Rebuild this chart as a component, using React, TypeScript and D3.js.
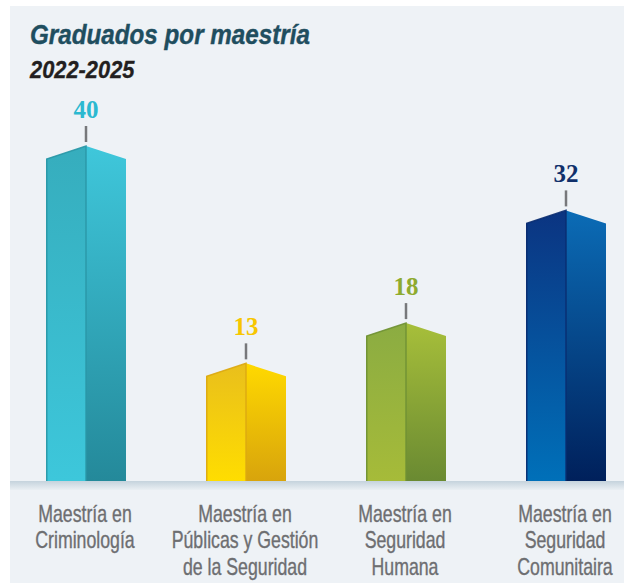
import React from "react";
import * as d3 from "d3";

const categories: string[][] = [
  ["Maestría en", "Criminología"],
  ["Maestría en", "Públicas y Gestión", "de la Seguridad"],
  ["Maestría en", "Seguridad", "Humana"],
  ["Maestría en", "Seguridad", "Comunitaira"],
];
const values = [40, 13, 18, 32];
const labelColors = ["#2bb9d0", "#f7c600", "#8eab2f", "#10306b"];
// [leftTop, leftBottom, rightTop, rightBottom, edge]
const faceColors = [
  ["#36adbd", "#3dc7db", "#3fc7db", "#24899a", "#2a97a6"],
  ["#e9bf1c", "#ffdd00", "#ffd900", "#d8a40c", "#dca812"],
  ["#8bac42", "#a6bb39", "#a7bf3a", "#6a8a32", "#6f9134"],
  ["#0b3481", "#0070b9", "#0b6cb6", "#00205b", "#0a2c70"],
];

const W = 624;
const H = 583;
const baseY = 481;

export default function App() {
  const x = d3.scaleBand<number>().domain(d3.range(values.length)).range([46, 606]).paddingInner(0.5).paddingOuter(0);
  const y = d3.scaleLinear().domain([0, 40]).range([baseY, 159]);
  const roof = 13;
  const bw = x.bandwidth();
  const sans = "'Liberation Sans', Arial, sans-serif";

  return (
    <svg width={W} height={H} style={{ position: "absolute", left: 0, top: 0, display: "block" }}>
      <defs>
        {faceColors.map((c, i) => (
          <React.Fragment key={i}>
            <linearGradient id={`gl${i}`} x1="0" y1="0" x2="0" y2="1">
              <stop offset="0%" stopColor={c[0]} />
              <stop offset="100%" stopColor={c[1]} />
            </linearGradient>
            <linearGradient id={`gr${i}`} x1="0" y1="0" x2="0" y2="1">
              <stop offset="0%" stopColor={c[2]} />
              <stop offset="100%" stopColor={c[3]} />
            </linearGradient>
          </React.Fragment>
        ))}
        <linearGradient id="base" x1="0" y1="0" x2="0" y2="1">
          <stop offset="0%" stopColor="#c5d3dd" />
          <stop offset="100%" stopColor="#eaeff3" />
        </linearGradient>
      </defs>
      <rect x={0} y={0} width={W} height={H} fill="#ffffff" />
      <rect x={10} y={6} width={W - 10} height={H - 6} fill="#eef2f6" />
      <rect x={10} y={baseY} width={W - 10} height={9} fill="url(#base)" />

      <g transform="translate(30,44) scale(0.85,1)">
        <text x={0} y={0} fontFamily={sans} fontWeight="bold" fontStyle="italic" fontSize={28.5} fill="#1f4e5f" stroke="#1f4e5f" strokeWidth={0.4}>
          Graduados por maestría
        </text>
      </g>
      <g transform="translate(30,78) scale(0.95,1)">
        <text x={0} y={0} fontFamily={sans} fontWeight="bold" fontStyle="italic" fontSize={23} fill="#231f20" stroke="#231f20" strokeWidth={0.3}>
          2022-2025
        </text>
      </g>

      {values.map((v, i) => {
        const x0 = x(i)!;
        const x1 = x0 + bw;
        const xc = x0 + bw / 2;
        const sy = y(v);
        const py = sy - roof;
        const c = faceColors[i];
        const left = d3.line()([[x0, sy], [xc, py], [xc, baseY], [x0, baseY]]) + "Z";
        const right = d3.line()([[xc, py], [x1, sy], [x1, baseY], [xc, baseY]]) + "Z";
        return (
          <g key={i}>
            <path d={left} fill={`url(#gl${i})`} />
            <path d={right} fill={`url(#gr${i})`} />
            <path d={d3.line()([[x0 + 0.75, baseY], [x0 + 0.75, sy], [xc, py], [xc, baseY]])!} fill="none" stroke={c[4]} strokeWidth={1.5} opacity={0.9} />
            <line x1={xc} x2={xc} y1={py - 20} y2={py - 4} stroke="#77787b" strokeWidth={2.5} />
            <text x={xc} y={py - 28} textAnchor="middle" fontFamily="'Liberation Serif', 'DejaVu Serif', serif" fontWeight="bold" fontSize={25} fill={labelColors[i]}>
              {v}
            </text>
            <g transform={`translate(${xc - 1},0) scale(0.77,1)`}>
              {categories[i].map((line, j) => (
                <text key={j} x={0} y={522 + j * 26.5} textAnchor="middle" fontFamily={sans} fontSize={23} fill="#6d6e71" stroke="#6d6e71" strokeWidth={0.35}>
                  {line}
                </text>
              ))}
            </g>
          </g>
        );
      })}
    </svg>
  );
}
